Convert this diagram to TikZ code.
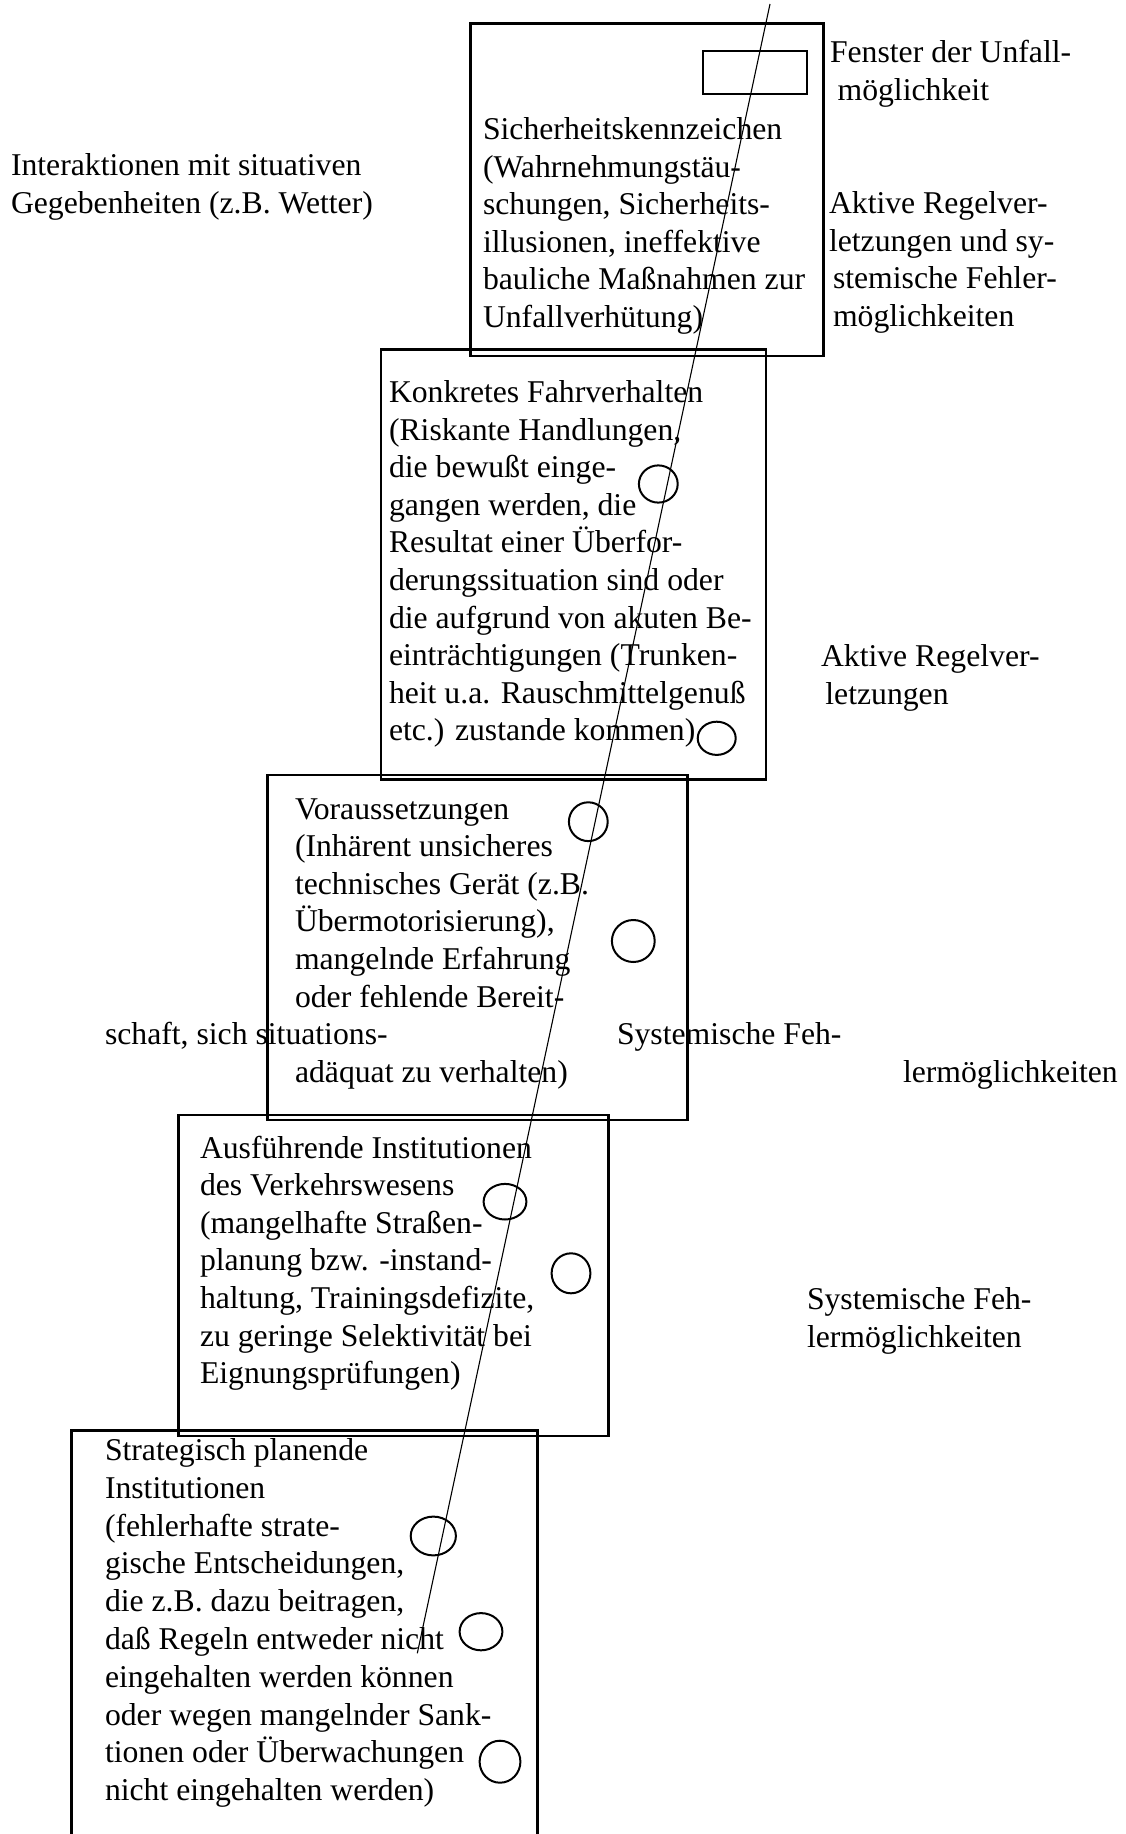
\documentclass[tikz,border=0pt]{standalone}
\usepackage{fontspec}
\setmainfont{Liberation Serif}
\newcommand\rowl[1]{\hbox{#1}}
\tikzset{
  layer/.style={line width=1.3pt},
  hole/.style={line width=1pt},
  ray/.style={line width=0.55pt},
  lbl/.style={anchor=base west, inner sep=0pt, outer sep=0pt,
    font=\fontsize{15.85pt}{18.78pt}\selectfont},
}
\begin{document}
\begin{tikzpicture}[x=0.5pt,y=-0.5pt]
\useasboundingbox (0,0) rectangle (1125,1834);
% layers
\draw[layer] (470.7,23.3) rectangle (823.3,356);
\draw[hole] (703.3,51) rectangle (806.7,94.3);
\draw[layer] (381,349.3) rectangle (766,779.3);
\draw[layer] (267.3,775) rectangle (687.3,1120);
\draw[layer] (178.3,1115) rectangle (608.3,1436);
\draw[layer] (71.7,1834) -- (71.7,1430.7) -- (537.3,1430.7) -- (537.3,1834);
% holes
\draw[hole] (658.3,484) ellipse [x radius=9.7pt, y radius=9.3pt];
\draw[hole] (716.7,738.3) ellipse [x radius=9.5pt, y radius=8.3pt];
\draw[hole] (588.3,821.7) ellipse [x radius=9.7pt, y radius=9.7pt];
\draw[hole] (633.3,941) ellipse [x radius=10.7pt, y radius=10.5pt];
\draw[hole] (505,1201.7) ellipse [x radius=10.7pt, y radius=8.9pt];
\draw[hole] (571,1273.3) ellipse [x radius=9.7pt, y radius=10pt];
\draw[hole] (433.3,1536) ellipse [x radius=11.3pt, y radius=9.7pt];
\draw[hole] (481,1631.7) ellipse [x radius=10.7pt, y radius=9.3pt];
\draw[hole] (500,1761.7) ellipse [x radius=10.2pt, y radius=10.5pt];
% trajectory
\coordinate (rayTop) at (770,4);
\coordinate (rayEnd) at (417.3,1653.3);
\draw[ray] (rayTop) -- (rayEnd);
% texts
\node[lbl] (t1) at (483,139.5) {\vtop{\rowl{Sicherheitskennzeichen}\rowl{(Wahrnehmungstäu-}\rowl{schungen, Sicherheits-}\rowl{illusionen, ineffektive}\rowl{bauliche Maßnahmen zur}\rowl{Unfallverhütung)}}};
\node[lbl] (inter) at (11,176) {\vtop{\rowl{Interaktionen mit situativen}\rowl{Gegebenheiten (z.B. Wetter)}}};
\node[lbl] (fenster) at (830,63) {\vtop{\rowl{Fenster der Unfall-}\rowl{\kern3.8pt möglichkeit}}};
\node[lbl] (aktiv1) at (829,213.5) {\vtop{\rowl{Aktive Regelver-}\rowl{letzungen und sy-}\rowl{\kern2pt stemische Fehler-}\rowl{\kern2pt möglichkeiten}}};
\node[lbl] (t2) at (389,402.7) {\vtop{\rowl{Konkretes Fahrverhalten}\rowl{(Riskante Handlungen,}\rowl{die bewußt einge-}\rowl{gangen werden, die}\rowl{Resultat einer Überfor-}\rowl{derungssituation sind oder}\rowl{die aufgrund von akuten Be-}\rowl{einträchtigungen (Trunken-}\rowl{heit u.a. Rauschmittelgenuß}\rowl{etc.) zustande kommen)}}};
\node[lbl] (aktiv2) at (821,666.7) {\vtop{\rowl{Aktive Regelver-}\rowl{\kern2.2pt letzungen}}};
\node[lbl] (t3) at (295,819.3) {\vtop{\rowl{Voraussetzungen}\rowl{(Inhärent unsicheres}\rowl{technisches Gerät (z.B.}\rowl{Übermotorisierung),}\rowl{mangelnde Erfahrung}\rowl{oder fehlende Bereit-}}};
\node[lbl] (t3b) at (105,1044.5) {schaft, sich situations-};
\node[lbl] (t3c) at (295,1082) {adäquat zu verhalten)};
\node[lbl] (sys1a) at (617,1044.5) {Systemische Feh-};
\node[lbl] (sys1b) at (903,1082) {lermöglichkeiten};
\node[lbl] (t4) at (200,1158.3) {\vtop{\rowl{Ausführende Institutionen}\rowl{des Verkehrswesens}\rowl{(mangelhafte Straßen-}\rowl{planung bzw. -instand-}\rowl{haltung, Trainingsdefizite,}\rowl{zu geringe Selektivität bei}\rowl{Eignungsprüfungen)}}};
\node[lbl] (sys2) at (807,1309.5) {\vtop{\rowl{Systemische Feh-}\rowl{lermöglichkeiten}}};
\node[lbl, font=\fontsize{15.85pt}{18.9pt}\selectfont] (t5) at (105,1460.5) {\vtop{\rowl{Strategisch planende}\rowl{Institutionen}\rowl{(fehlerhafte strate-}\rowl{gische Entscheidungen,}\rowl{die z.B. dazu beitragen,}\rowl{daß Regeln entweder nicht}\rowl{eingehalten werden können}\rowl{oder wegen mangelnder Sank-}\rowl{tionen oder Überwachungen}\rowl{nicht eingehalten werden)}}};
\end{tikzpicture}
\end{document}
